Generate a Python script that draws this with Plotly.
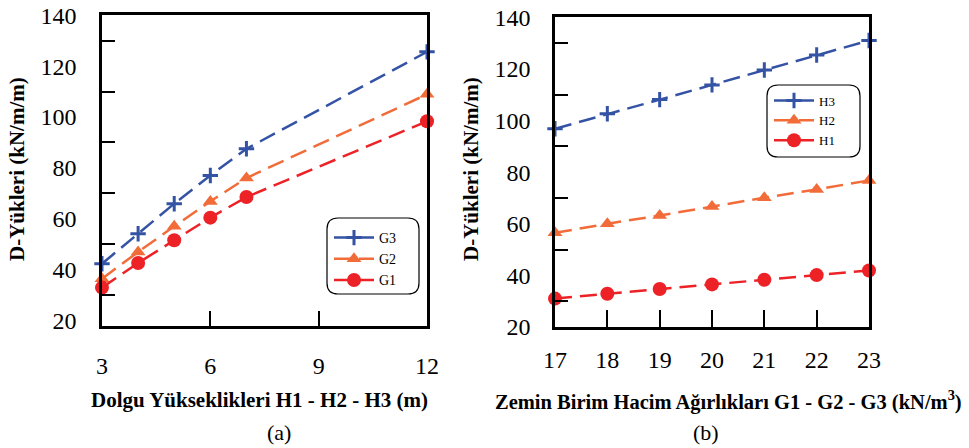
import plotly.graph_objects as go

# ---------------- data ----------------
H_heights = [3, 4, 5, 6, 7, 12]
G3_loads = [42.3, 54.1, 65.9, 77.0, 87.5, 125.6]
G2_loads = [36.4, 46.9, 57.0, 66.8, 76.0, 108.9]
G1_loads = [32.9, 42.6, 51.5, 60.4, 68.5, 98.3]

G_weights = [17, 18, 19, 20, 21, 22, 23]
H3_loads = [96.8, 102.6, 108.1, 113.8, 119.6, 125.4, 131.0]
H2_loads = [56.5, 60.0, 63.2, 66.7, 70.1, 73.3, 76.8]
H1_loads = [31.0, 32.9, 34.7, 36.5, 38.3, 40.1, 41.9]

left_xticks = [3, 6, 9, 12]
right_xticks = [17, 18, 19, 20, 21, 22, 23]
y_labels = [20, 40, 60, 80, 100, 120, 140]
y_minor = [30, 50, 70, 90, 110, 130]

# ---------------- style ----------------
W, H = 969, 448
BLUE = "#3553A4"
ORANGE = "#F26C3A"
RED = "#EC2227"
FONT = "Liberation Serif, Times New Roman, serif"
DASH = "17px,8px"

def px_x(p):
    return p / W

def px_y(p):
    return 1 - p / H

fig = go.Figure()

def add(x, y, name, color, symbol, size, xa, ya, legend):
    marker = dict(symbol=symbol, size=size, color=color)
    if symbol == "cross-thin":
        marker["line"] = dict(color=color, width=3)
    fig.add_trace(go.Scatter(
        x=x, y=y, name=name, mode="lines+markers",
        line=dict(color=color, width=2.5, dash=DASH),
        marker=marker, xaxis=xa, yaxis=ya, legend=legend,
        cliponaxis=False,
    ))

add(H_heights, G3_loads, "G3", BLUE, "cross-thin", 11, "x", "y", "legend")
add(H_heights, G2_loads, "G2", ORANGE, "triangle-up", 13, "x", "y", "legend")
add(H_heights, G1_loads, "G1", RED, "circle", 14, "x", "y", "legend")

add(G_weights, H3_loads, "H3", BLUE, "cross-thin", 11, "x2", "y2", "legend2")
add(G_weights, H2_loads, "H2", ORANGE, "triangle-up", 13, "x2", "y2", "legend2")
add(G_weights, H1_loads, "H1", RED, "circle", 14, "x2", "y2", "legend2")

axis_common = dict(
    showline=True, linecolor="black", linewidth=2.5, mirror=True,
    showgrid=False, zeroline=False, automargin=False,
    tickfont=dict(family=FONT, size=24, color="black"),
)

yaxis_common = dict(
    axis_common,
    tickmode="array", tickvals=y_labels, ticktext=[str(v) for v in y_labels],
    ticks="", ticklabelstandoff=18,
    minor=dict(tickmode="array", tickvals=y_minor, ticks="inside",
               ticklen=13, tickwidth=2, tickcolor="black"),
)

fig.update_layout(
    width=W, height=H,
    margin=dict(l=0, r=0, t=0, b=0, autoexpand=False),
    paper_bgcolor="white", plot_bgcolor="white",
    showlegend=True,
    xaxis=dict(axis_common, domain=[px_x(102), px_x(427)], range=[3, 12],
               tickmode="array", tickvals=left_xticks,
               ticks="inside", ticklen=15, tickwidth=2, tickcolor="black",
               ticklabelstandoff=16, anchor="y"),
    yaxis=dict(yaxis_common, domain=[px_y(326), px_y(15)], range=[17.8, 140.1],
               anchor="x"),
    xaxis2=dict(axis_common, domain=[px_x(555), px_x(869)], range=[17, 23],
                tickmode="array", tickvals=right_xticks,
                ticks="inside", ticklen=17, tickwidth=2, tickcolor="black",
                ticklabelstandoff=9, anchor="y2"),
    yaxis2=dict(yaxis_common, domain=[px_y(327), px_y(16.5)], range=[20, 140.3],
                anchor="x2", ticklabelstandoff=17),
    legend=dict(x=px_x(329), y=px_y(222), xanchor="left", yanchor="top",
                bgcolor="rgba(0,0,0,0)", borderwidth=0, itemwidth=40,
                font=dict(family=FONT, size=14, color="black"),
                traceorder="normal"),
    legend2=dict(x=px_x(769), y=px_y(85.5), xanchor="left", yanchor="top",
                 bgcolor="rgba(0,0,0,0)", borderwidth=0, itemwidth=40,
                 font=dict(family=FONT, size=13, color="black"),
                 traceorder="normal"),
)

def rounded_rect(x0, y0, x1, y1, r):
    # pixel coords (top-left origin) -> paper path
    def P(x, y):
        return f"{px_x(x):.5f},{px_y(y):.5f}"
    return (f"M {P(x0 + r, y0)} L {P(x1 - r, y0)} Q {P(x1, y0)} {P(x1, y0 + r)} "
            f"L {P(x1, y1 - r)} Q {P(x1, y1)} {P(x1 - r, y1)} "
            f"L {P(x0 + r, y1)} Q {P(x0, y1)} {P(x0, y1 - r)} "
            f"L {P(x0, y0 + r)} Q {P(x0, y0)} {P(x0 + r, y0)} Z")

for box in [(327, 218, 419, 294), (767, 85, 860, 157)]:
    fig.add_shape(type="path", xref="paper", yref="paper",
                  path=rounded_rect(*box, 11),
                  line=dict(color="black", width=1.2), fillcolor="rgba(0,0,0,0)")

def text(x, y, s, size, bold=False, angle=0):
    fig.add_annotation(x=px_x(x), y=px_y(y), xref="paper", yref="paper",
                       text=(f"<b>{s}</b>" if bold else s), showarrow=False,
                       textangle=angle, xanchor="center", yanchor="middle",
                       font=dict(family=FONT, size=size, color="black"))

text(17, 169, "D-Yükleri (kN/m/m)", 21, bold=True, angle=-90)
text(471, 169, "D-Yükleri (kN/m/m)", 21, bold=True, angle=-90)
text(259, 400, "Dolgu Yükseklikleri H1 - H2 - H3 (m)", 21, bold=True)
text(728, 400, "Zemin Birim Hacim Ağırlıkları G1 - G2 - G3 (kN/m<sup>3</sup>)", 20.5, bold=True)
text(279, 432, "(a)", 22)
text(706, 432, "(b)", 22)

fig.write_html("out.html")
